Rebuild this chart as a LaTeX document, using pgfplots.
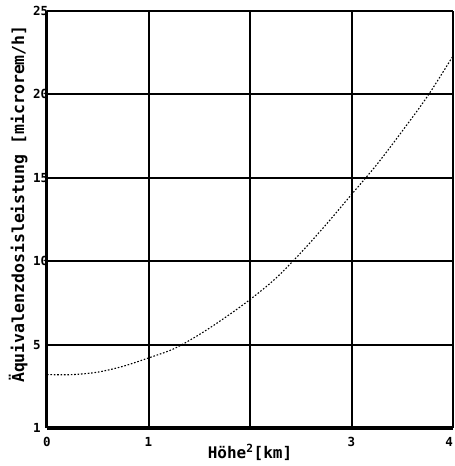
\documentclass[border=0pt]{standalone}
\usepackage{fontspec}
\setmainfont{DejaVu Sans Mono}
\usepackage{pgfplots}
\pgfplotsset{compat=1.18}

\begin{document}
\begin{tikzpicture}
\useasboundingbox (0,0) rectangle (455pt,466pt);
\begin{axis}[
    at={(47pt,38pt)}, anchor=south west,
    scale only axis,
    width=406pt, height=417pt,
    xmin=0, xmax=4, ymin=0, ymax=25,
    xtick={0,1,2,3,4},
    xticklabels={0,1,,3,\makebox[0pt][r]{4}},
    ytick={0,5,10,15,20,25},
    yticklabels={1,5,10,15,20,25},
    axis x line*=bottom, axis y line*=left,
    axis line style={-, line width=3pt},
    x axis line style={line width=3.5pt},
    major tick length=0pt,
    grid=major,
    grid style={black, line width=2pt},
    /pgf/number format/assume math mode=true,
    tick label style={font=\bfseries\fontsize{12.5}{13}\selectfont},
    yticklabel style={anchor=west, inner sep=0pt, xshift=-14pt},
    xticklabel style={inner sep=0pt, yshift=-9pt},
    xlabel={Höhe\textsuperscript{2}[km]},
    every axis x label/.style={at={(axis description cs:0.5,-0.058)}, anchor=center,
        font=\bfseries\fontsize{16}{18}\selectfont},
    ylabel={Äquivalenzdosisleistung [microrem/h]},
    every axis y label/.style={at={(axis description cs:-0.071,0.537)}, rotate=90, anchor=center,
        font=\bfseries\fontsize{16.5}{18}\selectfont},
]
\addplot[black, line width=1.1pt, smooth, dash pattern=on 1.6pt off 1.8pt] coordinates {
    (0,3.2) (0.25,3.2) (0.5,3.35) (0.75,3.7) (1,4.2) (1.25,4.75)
    (1.5,5.6) (1.75,6.6) (2,7.7) (2.25,8.95) (2.5,10.5)
    (2.75,12.2) (3,14.0) (3.25,15.8) (3.5,17.8) (3.75,19.9) (4,22.3)
};
\end{axis}
\end{tikzpicture}
\end{document}
